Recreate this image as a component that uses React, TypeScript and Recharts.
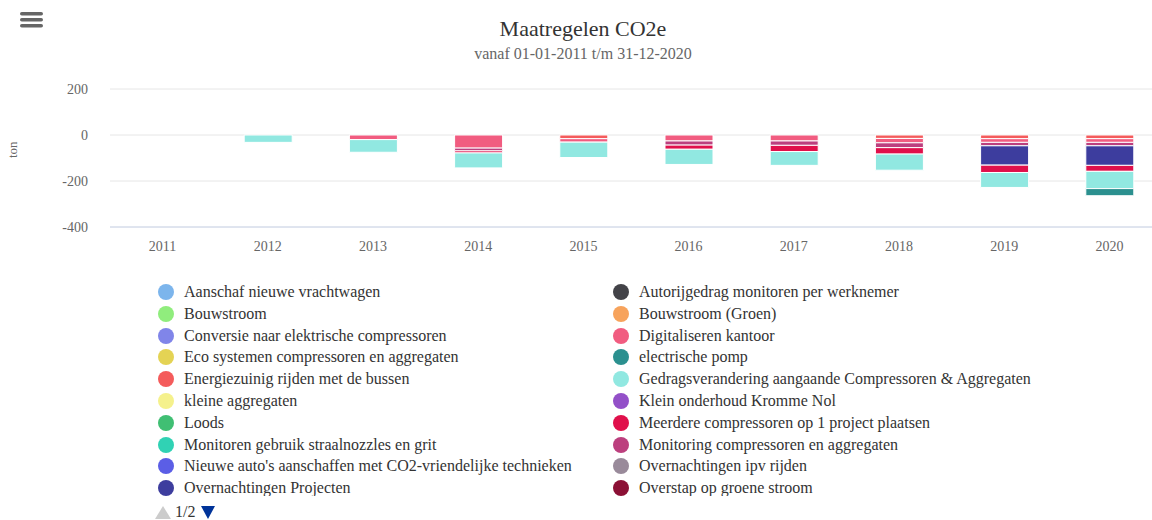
import * as React from "react"
import { Bar, BarChart, CartesianGrid, Label, XAxis, YAxis } from "recharts"

const FONT = "'Liberation Serif', 'Times New Roman', serif"

const years = ["2011", "2012", "2013", "2014", "2015", "2016", "2017", "2018", "2019", "2020"]
const yTicks = [-400, -200, 0, 200]

// series values per year (ton), first series sits closest to zero
const energiezuinig = [0, 0, 0, 0, -16, 0, 0, -15, -16, -16]
const digitaliseren = [0, 0, -20, -57, -15, -26, -26, -19, -16, -16]
const monitoring = [0, 0, 0, -12, 0, -18, -19, -21, -15, -15]
const overnachtingenProjecten = [0, 0, 0, 0, 0, 0, 0, 0, -84, -85]
const meerdere = [0, 0, 0, -9, 0, -18, -27, -28, -32, -26]
const gedrags = [0, -32, -55, -65, -67, -66, -60, -70, -65, -75]
const electrischePomp = [0, 0, 0, 0, 0, 0, 0, 0, 0, -31]

// legend page 1/2, row-major across two columns
const legendNames = [
  "Aanschaf nieuwe vrachtwagen",
  "Autorijgedrag monitoren per werknemer",
  "Bouwstroom",
  "Bouwstroom (Groen)",
  "Conversie naar elektrische compressoren",
  "Digitaliseren kantoor",
  "Eco systemen compressoren en aggregaten",
  "electrische pomp",
  "Energiezuinig rijden met de bussen",
  "Gedragsverandering aangaande Compressoren & Aggregaten",
  "kleine aggregaten",
  "Klein onderhoud Kromme Nol",
  "Loods",
  "Meerdere compressoren op 1 project plaatsen",
  "Monitoren gebruik straalnozzles en grit",
  "Monitoring compressoren en aggregaten",
  "Nieuwe auto's aanschaffen met CO2-vriendelijke technieken",
  "Overnachtingen ipv rijden",
  "Overnachtingen Projecten",
  "Overstap op groene stroom",
]
const legendColors = [
  "#7cb5ec", "#434348", "#90ed7d", "#f7a35c", "#8085e9",
  "#f15c80", "#e4d354", "#2b908f", "#f45b5b", "#91e8e1",
  "#f5f18c", "#9350c8", "#40bf73", "#e0104b", "#30d2b4",
  "#bc3f7e", "#5b5ee6", "#998a9a", "#3d3d9e", "#8b1035",
]

const series = [
  { key: "Energiezuinig rijden met de bussen", values: energiezuinig },
  { key: "Digitaliseren kantoor", values: digitaliseren },
  { key: "Monitoring compressoren en aggregaten", values: monitoring },
  { key: "Overnachtingen Projecten", values: overnachtingenProjecten },
  { key: "Meerdere compressoren op 1 project plaatsen", values: meerdere },
  { key: "Gedragsverandering aangaande Compressoren & Aggregaten", values: gedrags },
  { key: "electrische pomp", values: electrischePomp },
]

const colorOf = (name: string) => legendColors[legendNames.indexOf(name)]

const data = years.map((year, i) => {
  const row: Record<string, any> = { year }
  series.forEach((s) => {
    row[s.key] = s.values[i]
  })
  return row
})

const MenuIcon = () => (
  <svg width={26} height={20} style={{ position: "absolute", left: 19, top: 11 }}>
    <rect x={1} y={1} width={23} height={3.5} rx={1.75} fill="#666" />
    <rect x={1} y={7} width={23} height={3.5} rx={1.75} fill="#666" />
    <rect x={1} y={13} width={23} height={3.5} rx={1.75} fill="#666" />
  </svg>
)

const ChartLegend = () => (
  <div
    style={{
      position: "absolute",
      left: 0,
      top: 281,
      width: 1152,
      height: 215,
      overflow: "hidden",
    }}
  >
    {legendNames.map((name, i) => {
      const col = i % 2
      const row = Math.floor(i / 2)
      return (
        <div
          key={name}
          style={{
            position: "absolute",
            left: col === 0 ? 158 : 613,
            top: row * 21.8,
            height: 22,
            display: "flex",
            alignItems: "center",
            whiteSpace: "nowrap",
          }}
        >
          <span
            style={{
              width: 16,
              height: 16,
              borderRadius: 8,
              background: legendColors[i],
              display: "inline-block",
              marginRight: 10,
            }}
          />
          <span style={{ fontSize: 16, color: "#333" }}>{name}</span>
        </div>
      )
    })}
  </div>
)

const Pager = () => (
  <div style={{ position: "absolute", left: 154, top: 503, height: 18, display: "flex", alignItems: "center" }}>
    <svg width={18} height={15}>
      <polygon points="1,14 9,1 17,14" fill="#cccccc" />
    </svg>
    <span style={{ fontSize: 16, color: "#333", marginLeft: 3, marginRight: 5 }}>1/2</span>
    <svg width={16} height={15}>
      <polygon points="1,1 15,1 8,14" fill="#003399" />
    </svg>
  </div>
)

export default function App() {
  return (
    <div
      style={{
        position: "absolute",
        left: 0,
        top: 0,
        width: 1152,
        height: 520,
        overflow: "hidden",
        background: "#fff",
        fontFamily: FONT,
      }}
    >
      <MenuIcon />
      <div
        style={{
          position: "absolute",
          left: 383,
          width: 400,
          top: 16,
          textAlign: "center",
          fontSize: 22,
          color: "#333",
        }}
      >
        Maatregelen CO2e
      </div>
      <div
        style={{
          position: "absolute",
          left: 383,
          width: 400,
          top: 45,
          textAlign: "center",
          fontSize: 16,
          color: "#666",
        }}
      >
        vanaf 01-01-2011 t/m 31-12-2020
      </div>
      <div style={{ position: "absolute", left: 0, top: 0 }}>
        <BarChart
          width={1175}
          height={270}
          data={data}
          stackOffset="sign"
          margin={{ top: 89, right: 13, bottom: 0, left: 0 }}
        >
          <CartesianGrid horizontal vertical={false} stroke="#e6e6e6" />
          <XAxis
            dataKey="year"
            height={43}
            axisLine={{ stroke: "#ccd6eb" }}
            tickLine={false}
            tickMargin={8}
            tick={{ fill: "#666", fontSize: 14, fontFamily: FONT }}
          />
          <YAxis
            width={110}
            domain={[-400, 200]}
            ticks={yTicks}
            axisLine={false}
            tickLine={false}
            tickMargin={16}
            tick={{ fill: "#666", fontSize: 14, fontFamily: FONT }}
          >
            <Label
              value="ton"
              angle={-90}
              position="insideLeft"
              offset={12}
              style={{ fill: "#666", fontSize: 13, fontFamily: FONT }}
            />
          </YAxis>
          {series.map((s) => (
            <Bar
              key={s.key}
              dataKey={s.key}
              stackId="a"
              fill={colorOf(s.key)}
              stroke="#fff"
              strokeWidth={1}
              barSize={48}
              isAnimationActive={false}
            />
          ))}
        </BarChart>
      </div>
      <ChartLegend />
      <Pager />
    </div>
  )
}
